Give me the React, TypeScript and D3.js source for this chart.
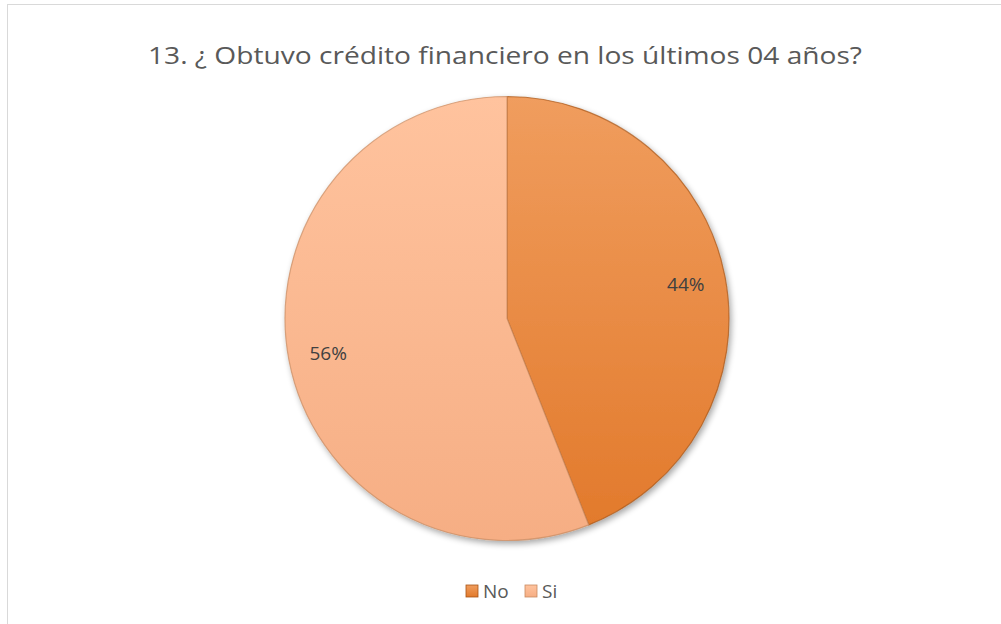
import React from "react";
import * as d3 from "d3";

const categories = ["No", "Si"];
const values = [44, 56];
const labels = ["44%", "56%"];
const title = "13. ¿ Obtuvo crédito financiero en los últimos 04 años?";

const W = 1001, H = 624;
const cx = 507, cy = 318.5, R = 222;

const gradStops: [string, string][] = [
  ["#F09D5E", "#E27A2C"],
  ["#FFC39E", "#F6AE84"],
];
const strokeCols = ["#A85414", "#C98A60"];

export default function App() {
  const pie = d3.pie<number>().sort(null).value((d) => d);
  const arcs = pie(values);
  const arc = d3.arc<d3.PieArcDatum<number>>().innerRadius(0).outerRadius(R);
  const labelArc = d3.arc<d3.PieArcDatum<number>>().innerRadius(R * 0.82).outerRadius(R * 0.82);
  const font = "'Open Sans', sans-serif";
  return (
    <svg width={W} height={H} style={{ position: "absolute", left: 0, top: 0 }}>
      <defs>
        {gradStops.map((g, i) => (
          <linearGradient key={i} id={`g${i}`} x1="0" y1="0" x2="0" y2="1">
            <stop offset="0" stopColor={g[0]} />
            <stop offset="1" stopColor={g[1]} />
          </linearGradient>
        ))}
        <filter id="sh" x="-20%" y="-20%" width="140%" height="140%">
          <feGaussianBlur in="SourceAlpha" stdDeviation="3" />
          <feOffset dx="2" dy="3" result="b" />
          <feComponentTransfer><feFuncA type="linear" slope="0.35" /></feComponentTransfer>
          <feMerge><feMergeNode /><feMergeNode in="SourceGraphic" /></feMerge>
        </filter>
      </defs>
      <rect x={0} y={0} width={W} height={H} fill="#fff" />
      <rect x={7.5} y={4.5} width={W + 10} height={H + 10} fill="#fff" stroke="#D9D9D9" strokeWidth={1} />
      <text x={505} y={64} textAnchor="middle" fontFamily={font} fontSize={24} fill="#595959" textLength={714} lengthAdjust="spacingAndGlyphs">{title}</text>
      <g transform={`translate(${cx},${cy})`} filter="url(#sh)">
        {arcs.map((a, i) => (
          <path key={i} d={arc(a) || ""} fill={`url(#g${i})`} stroke={strokeCols[i]} strokeWidth={1.2} strokeOpacity={0.7} />
        ))}
      </g>
      <g transform={`translate(${cx},${cy})`}>
        {arcs.map((a, i) => {
          const [x, y] = labelArc.centroid(a);
          return (
            <text key={i} x={x} y={y} textAnchor="middle" dominantBaseline="central" fontFamily={font} fontSize={19} fill="#404040">{labels[i]}</text>
          );
        })}
      </g>
      <g transform="translate(466,591)">
        {categories.map((c, i) => {
          const x = i === 0 ? 0 : 59;
          return (
            <g key={c} transform={`translate(${x},0)`}>
              <rect x={0} y={-6} width={12} height={12} fill={`url(#g${i})`} stroke={strokeCols[i]} strokeWidth={0.8} />
              <text x={17} y={0} dominantBaseline="central" fontFamily={font} fontSize={19} fill="#595959">{c}</text>
            </g>
          );
        })}
      </g>
    </svg>
  );
}
